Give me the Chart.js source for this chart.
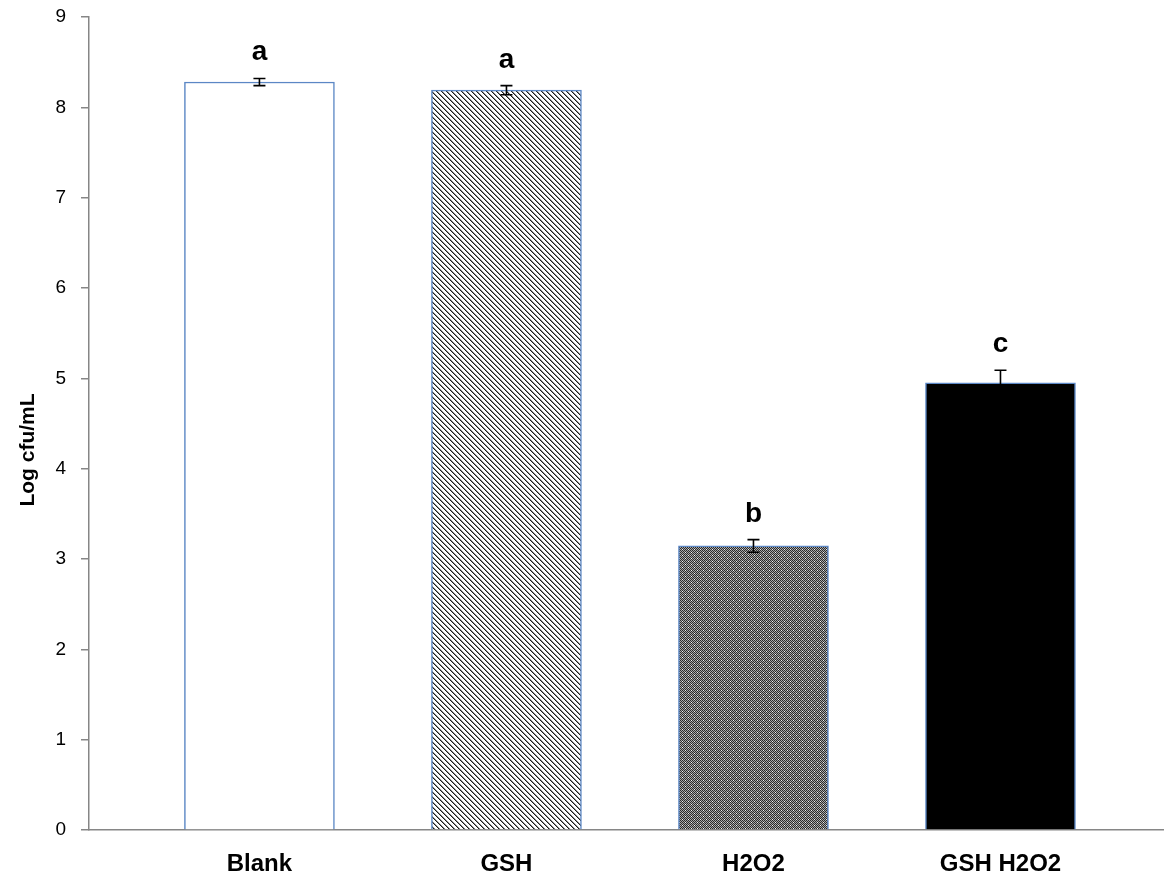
<!DOCTYPE html>
<html><head><meta charset="utf-8">
<script src="https://cdn.jsdelivr.net/npm/chart.js@4.4.1/dist/chart.umd.min.js"></script>
<style>html,body{margin:0;padding:0;background:#fff;}#wrap{width:1164px;height:882px;}</style>
</head><body><div id="wrap"><canvas id="c" width="1164" height="882"></canvas></div>
<script>
const categories = ["Blank", "GSH", "H2O2", "GSH H2O2"];
const values = [8.28, 8.19, 3.145, 4.95];
const errors = [0.04, 0.05, 0.07, 0.14];
const letters = ["a", "a", "b", "c"];
const yTicks = [0, 1, 2, 3, 4, 5, 6, 7, 8, 9];

const FONT = '"Liberation Sans", Arial, sans-serif';

function makePattern(size, drawFn) {
  const c = document.createElement('canvas');
  c.width = size; c.height = size;
  const g = c.getContext('2d');
  g.fillStyle = '#fff'; g.fillRect(0, 0, size, size);
  drawFn(g);
  return document.getElementById('c').getContext('2d').createPattern(c, 'repeat');
}
const diagPattern = makePattern(5, g => {
  for (let i = 0; i < 5; i++) {
    g.fillStyle = '#1a1a1a'; g.fillRect(i, i, 1, 1);
    g.fillStyle = '#8a8a8a'; g.fillRect((i + 1) % 5, i, 1, 1);
  }
});
const checkPattern = makePattern(6, g => {
  for (let y = 0; y < 6; y++) for (let x = 0; x < 6; x++) {
    g.fillStyle = ((x + y) % 2 === 0) ? '#2a2a2a' : '#a8a8a8';
    g.fillRect(x, y, 1, 1);
  }
  g.fillStyle = '#f0f0f0';
  g.fillRect(1, 0, 1, 1);
  g.fillRect(4, 3, 1, 1);
});
const fills = ['#ffffff', diagPattern, checkPattern, '#000000'];

const errLetterPlugin = {
  id: 'errLetter',
  afterDatasetsDraw(chart) {
    const ctx = chart.ctx;
    const xs = chart.scales.x, ys = chart.scales.y;
    ctx.save();
    values.forEach((v, i) => {
      const x = xs.getPixelForValue(i);
      const yTop = ys.getPixelForValue(v + errors[i]);
      const yBot = ys.getPixelForValue(v - errors[i]);
      ctx.strokeStyle = '#000';
      ctx.lineWidth = 1.6;
      ctx.beginPath();
      ctx.moveTo(x, yTop); ctx.lineTo(x, yBot);
      ctx.moveTo(x - 6, yTop); ctx.lineTo(x + 6, yTop);
      ctx.moveTo(x - 6, yBot); ctx.lineTo(x + 6, yBot);
      ctx.stroke();
      ctx.fillStyle = '#000';
      ctx.font = 'bold 28px ' + FONT;
      ctx.textAlign = 'center';
      ctx.textBaseline = 'alphabetic';
      ctx.fillText(letters[i], x, yTop - 18);
    });
    // y axis title
    ctx.translate(28, 450);
    ctx.rotate(-Math.PI / 2);
    ctx.font = 'bold 21px ' + FONT;
    ctx.textBaseline = 'middle';
    ctx.fillText('Log cfu/mL', 0, 0);
    ctx.restore();
  }
};

new Chart(document.getElementById('c'), {
  type: 'bar',
  data: {
    datasets: [{
      data: values.map((v, i) => ({ x: i, y: v })),
      backgroundColor: fills,
      borderColor: '#5b87c5',
      borderWidth: 1.5,
      barThickness: 150
    }]
  },
  options: {
    responsive: false,
    animation: false,
    layout: { autoPadding: false, padding: { left: 0, right: 0, top: 17, bottom: 0 } },
    plugins: { legend: { display: false }, tooltip: { enabled: false } },
    scales: {
      x: {
        type: 'linear',
        offset: false,
        min: -0.69, max: 3.662,
        afterBuildTicks(s) { s.ticks = categories.map((c, i) => ({ value: i })); },
        grid: { display: false, drawTicks: false },
        border: { color: '#868686', width: 1.5 },
        ticks: {
          color: '#000', padding: 20, autoSkip: false, maxRotation: 0,
          callback: (v) => categories[v],
          font: { size: 24, weight: 'bold', family: FONT }
        },
        afterFit(s) { s.height = 52; s.paddingLeft = 0; s.paddingRight = 0; }
      },
      y: {
        min: 0, max: 9,
        afterBuildTicks(s) { s.ticks = yTicks.map(v => ({ value: v })); },
        grid: { drawOnChartArea: false, tickLength: 8, color: '#868686', lineWidth: 1.5 },
        border: { color: '#868686', width: 1.5 },
        ticks: { color: '#000', padding: 15, font: { size: 19, family: FONT } },
        afterFit(s) { s.width = 89; s.paddingTop = 0; s.paddingBottom = 0; }
      }
    }
  },
  plugins: [errLetterPlugin]
});
</script></body></html>
